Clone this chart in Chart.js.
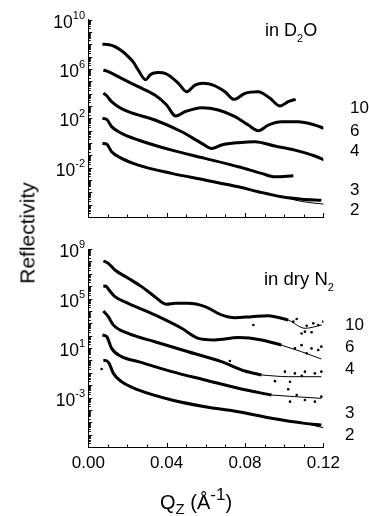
<!DOCTYPE html>
<html>
<head>
<meta charset="utf-8">
<script src="https://cdn.jsdelivr.net/npm/chart.js@4.4.1/dist/chart.umd.min.js"></script>
<style>
  body { margin: 0; background: #fff; font-family: "Liberation Sans", Arial, sans-serif; }
  #wrap { position: relative; width: 369px; height: 516px; overflow: hidden; }
  canvas { position: absolute; left: 0; }
  .t { position: absolute; color: #000; white-space: nowrap; line-height: 1; }
</style>
</head>
<body>
<div id="wrap">
  <canvas id="topChart" width="369" height="240" style="top:0"></canvas>
  <canvas id="bottomChart" width="369" height="276" style="top:240px"></canvas>
</div>
<script>
"use strict";

// Axis settings and tick labels
var qRange = [0, 0.12];
var topRange = [1e-6, 1e10];
var bottomRange = [1e-7, 1e9];
var topExponents = [-2, 2, 6, 10];
var bottomExponents = [-3, 1, 5, 9];
var xTickValues = [0, 0.04, 0.08, 0.12];
var xTickLabels = ['0.00', '0.04', '0.08', '0.12'];
var curveLabels = ['10', '6', '4', '3', '2'];

// In D2O: [Qz, reflectivity] (curves are offset)
var d2o10 = [[0.0072, 1.0e8], [0.0100, 9.3e7], [0.0136, 6.3e7], [0.0170, 2.9e7], [0.0204, 9.8e6],
  [0.0230, 3.5e6], [0.0255, 8.1e5], [0.0293, 1.3e5], [0.0315, 3.2e5], [0.0335, 4.6e5],
  [0.0357, 5.2e5], [0.0380, 4.8e5], [0.0408, 3.2e5], [0.0460, 6.8e4], [0.0502, 1.4e4],
  [0.0545, 4.9e4], [0.0587, 6.8e4], [0.0638, 4.9e4], [0.0698, 1.4e4], [0.0744, 3.4e3],
  [0.0800, 1.05e4], [0.0868, 1.4e4], [0.0928, 4.1e3], [0.0979, 9.8e2], [0.1021, 2.2e3], [0.1059, 3.4e3]];
var d2o6 = [[0.0077, 8.1e5], [0.0102, 5.9e5], [0.0170, 1.7e5], [0.0255, 3.6e4], [0.0340, 7.6e3],
  [0.0400, 1.2e3], [0.0446, 1.5e2], [0.0494, 3.4e2], [0.0579, 7.2e2], [0.0664, 4.7e2],
  [0.0749, 1.35e2], [0.0817, 28], [0.0868, 9.8], [0.0919, 28], [0.0987, 52], [0.1072, 52],
  [0.1157, 28], [0.1205, 15]];
var d2o4 = [[0.0077, 1.05e4], [0.0094, 6.6e3], [0.0119, 2.2e3], [0.0153, 8.7e2], [0.0204, 3.4e2],
  [0.0340, 72], [0.0477, 8.1], [0.0579, 0.93], [0.0630, 0.36], [0.0681, 0.68], [0.0766, 1.05],
  [0.0851, 1.26], [0.0953, 0.56], [0.1055, 0.26], [0.1157, 0.087], [0.1205, 0.041]];
var d2o3 = [[0.0072, 98], [0.0094, 81], [0.0119, 21], [0.0170, 6.0], [0.0255, 1.74], [0.0426, 0.26],
  [0.0596, 0.056], [0.0766, 0.0117], [0.0885, 0.0034], [0.0953, 0.0018], [0.1047, 0.0022]];
var d2o2 = [[0.0072, 0.92], [0.0094, 0.81], [0.0119, 0.195], [0.0170, 0.056], [0.0255, 0.016],
  [0.0426, 0.0034], [0.0596, 9.8e-4], [0.0766, 2.8e-4], [0.0868, 1.12e-4], [0.0987, 4.4e-5],
  [0.1090, 2.8e-5], [0.1190, 2.3e-5]];
var d2o2Fit = [[0.0868, 1.12e-4], [0.0987, 4.4e-5], [0.1090, 1.8e-5], [0.1205, 1.1e-5]];

// In dry N2
var n210 = [[0.0077, 1.07e8], [0.0102, 6.9e7], [0.0136, 2.0e7], [0.0204, 4.3e6], [0.0272, 9.1e5],
  [0.0340, 1.4e5], [0.0400, 3.4e4], [0.0443, 4.1e4], [0.0510, 4.1e4], [0.0596, 2.2e4],
  [0.0680, 4.7e3], [0.0749, 2.8e3], [0.0834, 3.4e3], [0.0919, 4.1e3], [0.1021, 1.8e3]];
var n210Fit = [[0.0919, 4.1e3], [0.1021, 1.8e3], [0.1107, 3.9e2], [0.1192, 7.2e2]];
var n210Dots = [[0.0843, 7.2e2], [0.1047, 1.35e3], [0.1064, 2.2e3], [0.1089, 1.5e2], [0.1106, 2.1e2],
  [0.1115, 6.3e2], [0.1140, 1.9e2], [0.1149, 9.8e2], [0.1174, 7.2e2], [0.1200, 1.35e3]];
var n26 = [[0.0077, 9.5e5], [0.0089, 1.02e6], [0.0106, 4.9e5], [0.0136, 1.4e5], [0.0204, 4.1e4],
  [0.0340, 4.7e3], [0.0477, 3.9e2], [0.0562, 60], [0.0647, 45], [0.0766, 69], [0.0885, 45], [0.0987, 17]];
var n26Fit = [[0.0987, 17], [0.1089, 5.0], [0.1190, 1.3]];
var n26Dots = [[0.1055, 9.3], [0.1089, 17], [0.1115, 3.7], [0.1140, 9.3], [0.1174, 6.9], [0.1190, 12.9]];
var n24 = [[0.0077, 9.8e3], [0.0102, 3.4e3], [0.0128, 7.2e2], [0.0204, 1.5e2], [0.0340, 32],
  [0.0510, 5.0], [0.0680, 0.79], [0.0800, 0.138], [0.0885, 0.066]];
var n24Fit = [[0.0885, 0.066], [0.1021, 0.048], [0.1190, 0.048]];
var n24Dots = [[0.0723, 0.89], [0.0953, 0.021], [0.1004, 0.123], [0.1030, 0.019], [0.1055, 0.089],
  [0.1090, 0.058], [0.1106, 0.123], [0.1157, 0.089], [0.1190, 0.123]];
var n23 = [[0.0072, 1.12e2], [0.0094, 83], [0.0119, 9.3], [0.0170, 2.0], [0.0255, 0.79],
  [0.0426, 0.123], [0.0596, 0.026], [0.0766, 0.0055], [0.0936, 0.00158]];
var n23Fit = [[0.0936, 0.00158], [0.1055, 0.00117], [0.1190, 8.5e-4]];
var n23Dots = [[0.1021, 0.0046], [0.1030, 4.6e-4], [0.1064, 0.00158], [0.1106, 6.3e-4],
  [0.1157, 4.6e-4], [0.1190, 0.00117]];
var n22 = [[0.0077, 0.95], [0.0089, 1.0], [0.0106, 0.58], [0.0128, 0.089], [0.0170, 0.019],
  [0.0255, 0.0041], [0.0426, 6.3e-4], [0.0596, 1.8e-4], [0.0766, 7.1e-5], [0.0936, 2.1e-5],
  [0.1106, 8.1e-6], [0.1190, 6.0e-6]];
var n22Fit = [[0.1106, 8.1e-6], [0.1200, 3.6e-6]];
var n22Dots = [[0.0068, 0.2]];

var FONT = '"Liberation Sans", Arial, sans-serif';

function toXY(points) {
  return points.map(function (p) { return { x: p[0], y: p[1] }; });
}
function dataLine(points) {
  return { data: toXY(points), borderColor: '#000', borderWidth: 3, pointRadius: 0,
    cubicInterpolationMode: 'monotone', fill: false };
}
function fitLine(points) {
  return { data: toXY(points), borderColor: '#000', borderWidth: 1, pointRadius: 0,
    cubicInterpolationMode: 'monotone', fill: false };
}
function dots(points) {
  return { data: toXY(points), showLine: false, pointRadius: 1.3, pointBorderWidth: 0,
    pointBackgroundColor: '#000' };
}

// Inward tick marks plus "10^n" labels drawn from the chart's own scales
var axisDecor = {
  id: 'axisDecor',
  afterDraw: function (chart, args, opts) {
    var ctx = chart.ctx, xs = chart.scales.x, ys = chart.scales.y, area = chart.chartArea;
    ctx.save();
    ctx.strokeStyle = '#000';
    ctx.lineWidth = 1;
    ctx.beginPath();
    var eMin = Math.round(Math.log10(ys.min)), eMax = Math.round(Math.log10(ys.max));
    for (var e = eMin; e <= eMax; e++) {
      for (var m = 1; m <= 9; m++) {
        var v = m * Math.pow(10, e);
        if (v > ys.max * 1.001) break;
        var py = Math.round(ys.getPixelForValue(v)) + 0.5;
        ctx.moveTo(area.left, py);
        ctx.lineTo(area.left + (m === 1 ? 4 : 2.5), py);
      }
    }
    for (var i = 0; i <= 12; i++) {
      var px = Math.round(xs.getPixelForValue(i * 0.01)) + 0.5;
      ctx.moveTo(px, area.bottom);
      ctx.lineTo(px, area.bottom - (i % 4 === 0 ? 4 : 2.5));
    }
    ctx.stroke();

    ctx.fillStyle = '#000';
    ctx.textBaseline = 'alphabetic';
    opts.exponents.forEach(function (ex) {
      var y = ys.getPixelForValue(Math.pow(10, ex));
      ctx.font = '17.5px ' + FONT;
      var wb = ctx.measureText('10').width;
      ctx.font = '11px ' + FONT;
      var we = ctx.measureText(String(ex)).width;
      var x0 = 85 - wb - we;
      ctx.font = '17.5px ' + FONT;
      ctx.textAlign = 'left';
      ctx.fillText('10', x0, y + 8);
      ctx.font = '11px ' + FONT;
      ctx.fillText(String(ex), x0 + wb, y - 1);
    });

    if (opts.showX) {
      ctx.font = '17px ' + FONT;
      ctx.textAlign = 'center';
      ctx.textBaseline = 'middle';
      xTickValues.forEach(function (v, k) {
        ctx.fillText(xTickLabels[k], xs.getPixelForValue(v), area.bottom + 16);
      });
    }
    ctx.restore();
  }
};

function makeChart(id, datasets, yRange, exponents, showX, pad, xHeight) {
  var el = document.getElementById(id);
  return new Chart(el.getContext('2d'), {
    type: 'line',
    data: { datasets: datasets },
    options: {
      responsive: false,
      animation: false,
      devicePixelRatio: 1,
      layout: { padding: { left: 0, top: pad.top, right: pad.right, bottom: 0 } },
      scales: {
        x: {
          type: 'linear', min: qRange[0], max: qRange[1],
          grid: { display: false },
          ticks: { display: false },
          border: { display: true, color: '#000', width: 1 },
          afterFit: function (s) { s.height = xHeight; }
        },
        y: {
          type: 'logarithmic', min: yRange[0], max: yRange[1],
          grid: { display: false },
          ticks: { display: false },
          border: { display: true, color: '#000', width: 1 },
          afterFit: function (s) { s.width = 88.3; }
        }
      },
      plugins: {
        legend: { display: false },
        tooltip: { enabled: false },
        axisDecor: { exponents: exponents, showX: showX }
      }
    },
    plugins: [axisDecor]
  });
}

makeChart('topChart', [
  dataLine(d2o10), dataLine(d2o6), dataLine(d2o4), dataLine(d2o3), dataLine(d2o2), fitLine(d2o2Fit)
], topRange, topExponents, false, { top: 19.5, right: 45.7 }, 23);

makeChart('bottomChart', [
  dataLine(n210), fitLine(n210Fit), dots(n210Dots),
  dataLine(n26), fitLine(n26Fit), dots(n26Dots),
  dataLine(n24), fitLine(n24Fit), dots(n24Dots),
  dataLine(n23), fitLine(n23Fit), dots(n23Dots),
  dataLine(n22), fitLine(n22Fit), dots(n22Dots)
], bottomRange, bottomExponents, true, { top: 9, right: 45.7 }, 69);

// Text around the plots
var wrap = document.getElementById('wrap');
function addText(html, left, centerY, size, extra) {
  var d = document.createElement('div');
  d.className = 't';
  d.innerHTML = html;
  d.style.left = left + 'px';
  d.style.top = (centerY - size * 0.49) + 'px';
  d.style.fontSize = size + 'px';
  if (extra) d.setAttribute('style', d.getAttribute('style') + ';' + extra);
  wrap.appendChild(d);
  return d;
}
var topLabelY = [107.5, 130, 150, 189, 209.5];
var bottomLabelY = [324, 346.5, 368, 412.5, 434];
curveLabels.forEach(function (txt, i) {
  addText(txt, 350, topLabelY[i], 17);
  addText(txt, 345, bottomLabelY[i], 17);
});
addText('in D<span style="font-size:11px;position:relative;top:6px">2</span>O', 265, 30, 18);
addText('in dry N<span style="font-size:11px;position:relative;top:6px">2</span>', 264, 279.5, 18.5);
addText('Q<span style="font-size:15px;position:relative;top:5px">Z</span> (Å<span style="font-size:17px;position:relative;top:-9px">-1</span>)',
  160, 502, 20);
var yt = document.createElement('div');
yt.className = 't';
yt.textContent = 'Reflectivity';
yt.style.cssText = 'left:27px;top:233px;font-size:21px;transform:translate(-50%,-50%) rotate(-90deg);';
wrap.appendChild(yt);
</script>
</body>
</html>
